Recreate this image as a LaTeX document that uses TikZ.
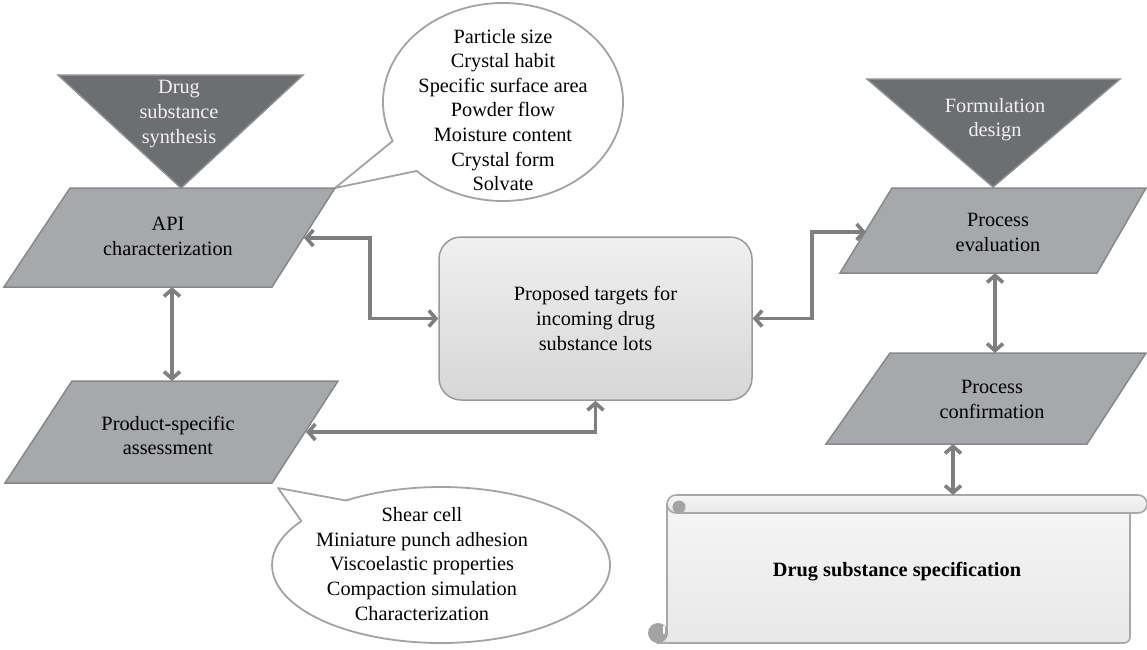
\documentclass[tikz,border=0pt]{standalone}
\usepackage{fontspec}
\setmainfont{Liberation Serif}
\usetikzlibrary{arrows.meta}
\definecolor{trifill}{HTML}{6D6E71}
\definecolor{triedge}{HTML}{8E8F91}
\definecolor{parafill}{HTML}{A6A8AB}
\definecolor{paraedge}{HTML}{87888A}
\definecolor{arrgray}{HTML}{7F7F7F}
\definecolor{bubedge}{HTML}{A3A3A3}
\definecolor{boxedge}{HTML}{9A9A9A}
\definecolor{scrolledge}{HTML}{A8A8A8}
\definecolor{curl}{HTML}{A3A3A3}
\definecolor{lighttext}{HTML}{F2F2F2}
\tikzset{
  txt/.style={font=\fontsize{20.3}{24.6}\selectfont, align=center, inner sep=0pt},
  trishape/.style={fill=trifill, draw=triedge, line width=1.5pt, line join=miter},
  parashape/.style={fill=parafill, draw=paraedge, line width=1.5pt},
  bubble/.style={fill=white, draw=bubedge, line width=1.8pt, line join=round},
  ctrbox/.style={txt, draw=boxedge, line width=1.5pt, rounded corners=22pt,
    top color=black!6, bottom color=black!16, minimum width=313pt, minimum height=163pt},
  scrollbody/.style={draw=scrolledge, line width=1.6pt, top color=black!4, bottom color=black!9},
  conn/.style={draw=arrgray, line width=3.6pt, line join=miter,
    {Straight Barb[length=7pt,width=16pt]}-{Straight Barb[length=7pt,width=16pt]}}
}
\begin{document}
\begin{tikzpicture}[x=1pt,y=-1pt]
\useasboundingbox (0,0) rectangle (1147,649);
\fill[white] (0,0) rectangle (1147,649);

% callouts
\draw[bubble] (503,102) ++(156.8:120 and 99) arc[start angle=156.8, end angle=495.9, x radius=120, y radius=99] -- (335,188) -- cycle;
\node[txt] (cA) at (503,110) {Particle size\\Crystal habit\\Specific surface area\\Powder flow\\Moisture content\\Crystal form\\Solvate};

\draw[bubble] (441,565) ++(235.8:169 and 78) arc[start angle=235.8, end angle=574.3, x radius=169, y radius=78] -- (278,488) -- cycle;
\node[txt] (cB) at (422,564) {Shear cell\\Miniature punch adhesion\\Viscoelastic properties\\Compaction simulation\\Characterization};

% triangles
\draw[trishape] (58,75) -- (303,75) -- (181,188) -- cycle;
\node[txt, text=lighttext] (syn) at (179,114) {Drug\\substance\\synthesis};
\draw[trishape] (867,79) -- (1120,79) -- (993,187) -- cycle;
\node[txt, text=lighttext] (form) at (995,119.5) {Formulation\\design};

% parallelograms
\draw[parashape] (70,188) -- (335,188) -- (272,287) -- (4,287) -- cycle;
\node[txt] (api) at (168,236.5) {API\\characterization};
\draw[parashape] (72,381) -- (338,381) -- (272,483) -- (5,483) -- cycle;
\node[txt] (prod) at (168,435.5) {Product-specific\\assessment};
\draw[parashape] (892,188) -- (1146,188) -- (1097,273) -- (840,273) -- cycle;
\node[txt] (eval) at (998,232.5) {Process\\evaluation};
\draw[parashape] (890,353) -- (1146,353) -- (1087,444) -- (826,444) -- cycle;
\node[txt] (conf) at (992,399.5) {Process\\confirmation};

% central box
\node[ctrbox] (ctr) at (595.5,318.5) {Proposed targets for\\incoming drug\\substance lots};

% scroll
\path[scrollbody] (667,505) -- (667,633) -- (658,643) -- (1124,643) arc[start angle=90, end angle=0, radius=6] -- (1130,513) -- cycle;
\path[scrollbody, rounded corners=9pt] (667,495) rectangle (1147,513);
\fill[curl] (679,507) circle[radius=6.5];
\fill[curl] (658,633) circle[radius=10];
\draw[white, line width=1.2pt] (664,626) -- (664,634);
\node[txt, font=\fontsize{20.3}{24.6}\selectfont\bfseries] (spec) at (897,572) {Drug substance specification};

% connector end points
\coordinate (api-s) at (172,287);
\coordinate (prod-n) at (172,381);
\coordinate (api-e) at (304,238);
\coordinate (prod-e) at (306,432);
\coordinate (eval-w) at (866,232);
\coordinate (eval-s) at (995,273);
\coordinate (conf-n) at (995,353);
\coordinate (conf-s) at (953,444);
\coordinate (spec-n) at (953,495);

% connectors
\draw[conn] (api-s) -- (prod-n);
\draw[conn] (api-e) -- (370,238) |- (ctr.west);
\draw[conn] (prod-e) -| (ctr.south);
\draw[conn] (ctr.east) -- (812,318.5) |- (eval-w);
\draw[conn] (eval-s) -- (conf-n);
\draw[conn] (conf-s) -- (spec-n);
\end{tikzpicture}
\end{document}
